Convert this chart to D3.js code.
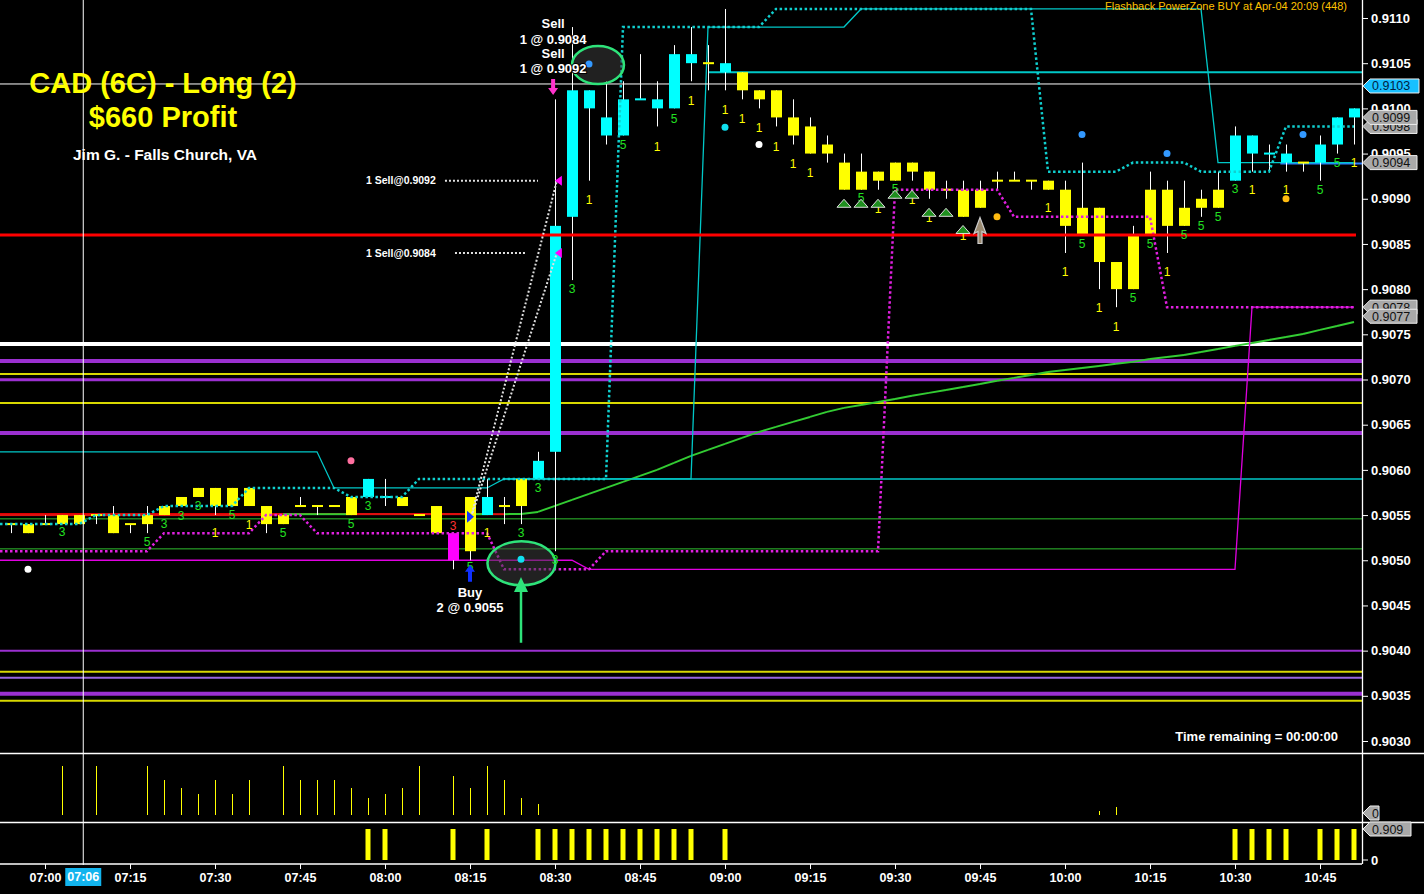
<!DOCTYPE html>
<html><head><meta charset="utf-8">
<script src="https://cdn.jsdelivr.net/npm/d3@7"></script>
<style>html,body{margin:0;padding:0;background:#000;overflow:hidden}text{font-family:"Liberation Sans",Arial,sans-serif}</style>
</head><body>
<script>
// ---------------- DATA ----------------
const barTimes = ["06:54","06:57","07:00","07:03","07:06","07:09","07:12","07:15","07:18","07:21",
"07:24","07:27","07:30","07:33","07:36","07:39","07:42","07:45","07:48","07:51",
"07:54","07:57","08:00","08:03","08:06","08:09","08:12","08:15","08:18","08:21",
"08:24","08:27","08:30","08:33","08:36","08:39","08:42","08:45","08:48","08:51",
"08:54","08:57","09:00","09:03","09:06","09:09","09:12","09:15","09:18","09:21",
"09:24","09:27","09:30","09:33","09:36","09:39","09:42","09:45","09:48","09:51",
"09:54","09:57","10:00","10:03","10:06","10:09","10:12","10:15","10:18","10:21",
"10:24","10:27","10:30","10:33","10:36","10:39","10:42","10:45","10:48","10:51"];
const barOpen = [.9054,.9054,.9054,.9055,.9055,.9055,.9055,.9054,.9055,.9056,
.9057,.9058,.9058,.9058,.9058,.9056,.9055,.9056,.9056,.9056,
.9057,.9057,.9057,.9057,.9055,.9056,.9053,.9057,.9055,.9056,
.9059,.9059,.9062,.9088,.9100,.9097,.9097,.9101,.9100,.9100,
.9105,.9105,.9104,.9104,.9102,.9102,.9099,.9098,.9096,.9094,
.9093,.9093,.9094,.9094,.9093,.9091,.9091,.9091,.9092,.9092,
.9092,.9092,.9091,.9089,.9089,.9083,.9086,.9091,.9091,.9089,
.9090,.9091,.9092,.9095,.9095,.9094,.9094,.9094,.9096,.9099];
const barHigh = [.9054,.9054,.9055,.9055,.9055,.9055,.9056,.9054,.9056,.9056,
.9057,.9058,.9058,.9058,.9058,.9056,.9055,.9057,.9056,.9056,
.9057,.9059,.9059,.9057,.9055,.9056,.9053,.9057,.9059,.9057,
.9059,.9062,.9101,.9109,.9102,.9103,.9103,.9106,.9103,.9107,
.9109,.9107,.9111,.9104,.9102,.9102,.9101,.9099,.9097,.9095,
.9095,.9093,.9094,.9094,.9093,.9092,.9092,.9092,.9093,.9093,
.9092,.9092,.9092,.9094,.9089,.9083,.9087,.9093,.9092,.9092,
.9091,.9093,.9098,.9097,.9096,.9096,.9094,.9097,.9099,.9100];
const barLow = [.9053,.9053,.9054,.9054,.9054,.9054,.9053,.9053,.9053,.9055,
.9056,.9057,.9055,.9056,.9056,.9053,.9054,.9056,.9055,.9056,
.9055,.9057,.9056,.9056,.9055,.9053,.9049,.9050,.9055,.9054,
.9054,.9059,.9051,.9081,.9092,.9096,.9097,.9101,.9098,.9100,
.9103,.9102,.9102,.9101,.9100,.9098,.9096,.9095,.9094,.9091,
.9091,.9091,.9092,.9092,.9090,.9090,.9088,.9089,.9091,.9092,
.9091,.9091,.9084,.9086,.9080,.9078,.9080,.9086,.9084,.9087,
.9088,.9089,.9092,.9093,.9093,.9093,.9093,.9092,.9095,.9096];
const barClose = [.9054,.9053,.9054,.9054,.9054,.9055,.9053,.9054,.9054,.9055,
.9056,.9057,.9056,.9056,.9056,.9054,.9054,.9056,.9056,.9056,
.9055,.9059,.9057,.9056,.9055,.9053,.9050,.9051,.9057,.9056,
.9056,.9061,.9087,.9102,.9102,.9099,.9101,.9101,.9101,.9106,
.9106,.9105,.9105,.9102,.9101,.9099,.9097,.9095,.9095,.9091,
.9091,.9092,.9092,.9093,.9091,.9091,.9088,.9089,.9092,.9092,
.9092,.9091,.9087,.9086,.9083,.9080,.9080,.9086,.9087,.9087,
.9089,.9089,.9097,.9097,.9095,.9095,.9094,.9096,.9099,.9100];
const barPaint = ["Y","Y","Y","Y","Y","Y","Y","Y","Y","Y","Y","Y","Y","Y","Y","Y","Y","Y","Y","Y",
"Y","C","C","Y","Y","Y","M","Y","C","Y","Y","C","C","C","C","C","C","C","C","C",
"C","Y","C","Y","Y","Y","Y","Y","Y","Y","Y","Y","Y","Y","Y","Y","Y","Y","Y","Y",
"Y","Y","Y","Y","Y","Y","Y","Y","Y","Y","Y","Y","C","C","C","C","Y","C","C","C"];

// indicator series (one value per bar)
const cyanTrail = [.9054,.9054,.9054,.9054,.9054,.9055,.9055,.9055,.9055,.9056,.9056,.9056,.9056,.9056,
.9058,.9058,.9058,.9058,.9058,.9058,.9057,.9057,.9057,.9057,
.9059,.9059,.9059,.9059,.9059,.9059,.9059,.9059,.9059,.9059,.9059,.9059,
.9109,.9109,.9109,.9109,.9109,.9109,.9109,.9109,.9109,
.9111,.9111,.9111,.9111,.9111,.9111,.9111,.9111,.9111,.9111,.9111,.9111,.9111,.9111,.9111,.9111,
.9093,.9093,.9093,.9093,.9093,.9094,.9094,.9094,.9094,.9093,.9093,.9093,.9093,.9093,
.9098,.9098,.9098,.9098,.9098];
const cyanBand = [.9062,.9062,.9062,.9062,.9062,.9062,.9062,.9062,.9062,.9062,.9062,.9062,.9062,.9062,.9062,.9062,.9062,.9062,.9062,
.9058,.9058,.9058,.9058,.9058,.9058,.9058,.9058,.9058,.9058,
.9059,.9059,.9059,.9059,.9059,.9059,.9059,.9059,.9059,.9059,.9059,.9059,
.9109,.9109,.9109,.9109,.9109,.9109,.9109,.9109,.9109,
.9111,.9111,.9111,.9111,.9111,.9111,.9111,.9111,.9111,.9111,.9111,.9111,.9111,.9111,.9111,.9111,.9111,.9111,.9111,.9111,.9111,
.9094,.9094,.9094,.9094,.9094,.9094,.9094,.9094,.9094];
const magentaTrail = [.9051,.9051,.9051,.9051,.9051,.9051,.9051,.9051,.9051,
.9053,.9053,.9053,.9053,.9053,.9053,.9055,.9055,.9055,
.9053,.9053,.9053,.9053,.9053,.9053,.9053,.9053,.9053,.9053,.9053,
.9049,.9049,.9049,.9049,.9049,.9049,
.9051,.9051,.9051,.9051,.9051,.9051,.9051,.9051,.9051,.9051,.9051,.9051,.9051,.9051,.9051,.9051,.9051,
.9091,.9091,.9091,.9091,.9091,.9091,.9091,
.9088,.9088,.9088,.9088,.9088,.9088,.9088,.9088,.9088,
.9078,.9078,.9078,.9078,.9078,.9078,.9078,.9078,.9078,.9078,.9078,.9078];
const magentaBand = [.9050,.9050,.9050,.9050,.9050,.9050,.9050,.9050,.9050,.9050,.9050,.9050,.9050,.9050,.9050,.9050,.9050,
.9050,.9050,.9050,.9050,.9050,.9050,.9050,.9050,.9050,.9050,.9050,.9050,.9050,.9050,.9050,.9050,.9050,
.9049,.9049,.9049,.9049,.9049,.9049,.9049,.9049,.9049,.9049,.9049,.9049,.9049,.9049,.9049,.9049,.9049,.9049,.9049,.9049,
.9049,.9049,.9049,.9049,.9049,.9049,.9049,.9049,.9049,.9049,.9049,.9049,.9049,.9049,.9049,.9049,.9049,.9049,.9049,
.9078,.9078,.9078,.9078,.9078,.9078,.9078];
const maLine = [.90550,.90550,.90550,.90550,.90550,.90550,.90550,.90550,.90550,.90550,.90550,.90550,.90550,.90550,.90550,.90550,
.90551,.90551,.90551,.90551,.90551,.90551,.90551,.90551,.90551,.90551,.90551,.90551,.90551,.90551,
.905513,.905535,.905602,.905668,.905735,.905801,.905867,.905934,.906000,.906077,
.906155,.906221,.906288,.906354,.906420,.906476,.906531,.906586,.906642,.906686,
.906719,.906752,.906785,.906819,.906852,.906885,.906918,.906951,.906985,.907018,
.907051,.907084,.907106,.907128,.907150,.907173,.907195,.907228,.907250,.907272,
.907305,.907338,.907372,.907405,.907438,.907471,.907504,.907549,.907593,.907637];
const maFalling = [1,1,1,1,1,1,1,1,1,1,1,1,1,1,1,1,0,0,0,0,1,1,1,1,1,1,1,0,1,0];

// horizontal levels
const levelPrices = [.907394,.907206,.907062,.906996,.906741,.906409,.903998,.903766,.903699,.903522,.903445,.905458,.905126,.905513];
const levelKinds  = ["white","purple","yellow","purpleM","yellow","purple","purpleT","yellow","lavender","purple","yellow","green","green","redThin"];
const stopPrice = 0.9086;
const breakoutLevel = 0.9059;
const resistLevel = 0.9104;
const blueLevel = 0.9094;

// volume & lower panel
const volTimes = ["07:03","07:09","07:18","07:21","07:24","07:27","07:30","07:33","07:36","07:42","07:45","07:48","07:51","07:54","07:57","08:00","08:03","08:06","08:12","08:15","08:18","08:21","08:24","08:27","10:06","10:09"];
const volValues = [49,49,49,35,27,21,35,21,35,49,35,35,35,27,17,21,27,49,39,27,49,35,17,11,4,8];
const lowTimes = ["07:57","08:00","08:12","08:18","08:27","08:30","08:33","08:36","08:39","08:42","08:45","08:48","08:51","08:54","09:00","10:30","10:33","10:36","10:39","10:45","10:48","10:51"];
const lowValues = [.909,.909,.909,.909,.909,.909,.909,.909,.909,.909,.909,.909,.909,.909,.909,.909,.909,.909,.909,.909,.909,.909];

// axis ticks
const priceTicks = [.9030,.9035,.9040,.9045,.9050,.9055,.9060,.9065,.9070,.9075,.9080,.9085,.9090,.9095,.9100,.9105,.9110];
const timeTicks = ["07:00","07:15","07:30","07:45","08:00","08:15","08:30","08:45","09:00","09:15","09:30","09:45","10:00","10:15","10:30","10:45"];

// count labels under bars
const cntTimes = ["07:03","07:18","07:21","07:24","07:27","07:30","07:33","07:36","07:42","07:54","07:57","08:12","08:15","08:18","08:24","08:27","08:30","08:33","08:36","08:42","08:48","08:51","08:54","09:00","09:03","09:06","09:09","09:12","09:15","09:24","09:27","09:30","09:33","09:36","09:42","09:57","10:00","10:03","10:06","10:09","10:12","10:15","10:18","10:21","10:24","10:27","10:30","10:33","10:39","10:45","10:48","10:51"];
const cntPrices = [.90531,.90520,.90540,.90549,.90560,.90530,.90550,.90539,.90530,.90540,.90560,.90538,.90493,.90530,.90530,.90580,.90500,.90800,.90899,.90960,.90958,.90989,.91008,.90998,.90988,.90978,.90958,.90939,.90929,.90901,.90889,.90911,.90899,.90879,.90859,.90890,.90819,.90850,.90779,.90758,.90790,.90850,.90819,.90860,.90870,.90880,.90911,.90910,.90910,.90910,.90940,.90940];
const cntText = ["3","5","3","3","3","1","5","1","5","5","3","3","5","1","3","3","3","3","1","5","1","5","1","1","1","1","1","1","1","5","1","5","1","1","1","1","1","5","1","1","5","5","1","5","5","5","3","1","1","5","5","1"];
const cntKind = ["g","g","g","g","g","y","g","y","g","g","g","r","g","y","g","g","g","g","y","g","y","g","y","y","y","y","y","y","y","g","y","g","y","y","y","y","y","g","y","y","g","g","y","g","g","g","g","y","y","g","g","y"];

// markers
const dotTimes = ["06:57","07:54","08:24","08:36","09:00","09:06","09:48","10:03","10:18","10:39","10:42"];
const dotPrices = [.90490,.90610,.90501,.91049,.90979,.90960,.90880,.90971,.90950,.90900,.90971];
const dotKind = ["white","pink","cyan","blue","cyan","white","orange","blue","blue","orange","blue"];
const triTimes = ["09:21","09:24","09:27","09:30","09:33","09:36","09:39","09:42"];
const triPrices = [.90895,.90895,.90895,.90905,.90905,.90885,.90885,.90866];

// right-axis price tags
const tagPrices = [.9098,.9099,.9094,.9078,.9077];
const tagLabels = ["0.9098","0.9099","0.9094","0.9078","0.9077"];
const crossTime = "07:06:45", crossPrice = 0.91027, crossLabel = "0.9103", crossTimeLabel = "07:06";

// ---------------- CHART ----------------
const W = 1424, H = 894, AX = 1362;
const parseT = d3.timeParse("%H:%M:%S");
const T = s => parseT(s.length === 5 ? s + ":00" : s);
const x = d3.scaleTime().domain([T("07:00"), T("10:45")]).range([45, 1320]);
const y = d3.scaleLinear().domain([0.9030, 0.9110]).range([741, 18]);
const yVol = d3.scaleLinear().domain([0, 50]).range([815, 765]);
const yLow = d3.scaleLinear().domain([0, 0.909]).range([860, 829]);
const bx = i => x(T(barTimes[i]));

const svg = d3.select("body").append("svg").attr("width", W).attr("height", H).style("display","block");
svg.append("rect").attr("width", W).attr("height", H).attr("fill", "#000");
svg.append("defs").append("clipPath").attr("id","cp").append("rect").attr("x",0).attr("y",0).attr("width",AX).attr("height",753);
const plot = svg.append("g").attr("clip-path","url(#cp)");

const lvlStyle = {
  white:{c:"#ffffff",w:4}, purple:{c:"#9b30d0",w:4}, purpleM:{c:"#9b30d0",w:3}, purpleT:{c:"#9b30d0",w:2},
  lavender:{c:"#9966dd",w:2}, yellow:{c:"#d8d800",w:2}, green:{c:"#2fbf2f",w:1}, redThin:{c:"#e00000",w:2}
};
plot.selectAll("line.lvl").data(levelPrices).join("line").attr("class","lvl")
  .attr("x1", 0)
  .attr("x2", (d,i)=> levelKinds[i]==="redThin" ? x(T("08:18")) : AX)
  .attr("y1", d=>y(d)).attr("y2", d=>y(d))
  .attr("stroke",(d,i)=>lvlStyle[levelKinds[i]].c).attr("stroke-width",(d,i)=>lvlStyle[levelKinds[i]].w);

// horizontal cyan levels
plot.append("line").attr("x1", x(T("08:21"))).attr("x2", AX).attr("y1", y(breakoutLevel)).attr("y2", y(breakoutLevel)).attr("stroke","#00c8c8").attr("stroke-width",1.5);
plot.append("line").attr("x1", x(T("08:57"))).attr("x2", AX).attr("y1", y(resistLevel)).attr("y2", y(resistLevel)).attr("stroke","#00c8c8").attr("stroke-width",2.2);
plot.append("line").attr("x1", x(T("10:38"))).attr("x2", AX).attr("y1", y(blueLevel)+1).attr("y2", y(blueLevel)+1).attr("stroke","#2a7fff").attr("stroke-width",2);

// line generator that starts at the left edge of the panel
const lineGen = vals => {
  const pts = vals.map((v,i)=>[bx(i), y(v)]);
  pts.unshift([0, y(vals[0])]);
  return d3.line()(pts);
};

// moving average with slope colouring
plot.append("line").attr("x1",0).attr("x2",bx(0)).attr("y1",y(maLine[0])).attr("y2",y(maLine[0])).attr("stroke","#e01010").attr("stroke-width",2);
for (let i = 0; i < maLine.length - 1; i++) {
  const red = i < maFalling.length && maFalling[i];
  plot.append("line").attr("x1", bx(i)).attr("x2", bx(i+1)).attr("y1", y(maLine[i])).attr("y2", y(maLine[i+1]))
    .attr("stroke", red ? "#e01010" : "#33cc33").attr("stroke-width", 2);
}

plot.append("path").attr("d", lineGen(magentaBand)).attr("fill","none").attr("stroke","#e000e0").attr("stroke-width",1.3);
plot.append("path").attr("d", lineGen(cyanBand)).attr("fill","none").attr("stroke","#00c8c8").attr("stroke-width",1.3);

// crosshair
svg.append("line").attr("x1", x(T(crossTime))).attr("x2", x(T(crossTime))).attr("y1",0).attr("y2",865).attr("stroke","#fff").attr("stroke-width",1);
plot.append("line").attr("x1",0).attr("x2",AX).attr("y1", y(crossPrice)).attr("y2", y(crossPrice)).attr("stroke","#fff").attr("stroke-width",1);

// candles
const paint = {Y:"#ffff00", C:"#00ffff", M:"#ff00ff"};
const cg = plot.append("g");
cg.selectAll("line.wick").data(barTimes).join("line").attr("class","wick")
  .attr("x1",(d,i)=>Math.round(bx(i))+0.5).attr("x2",(d,i)=>Math.round(bx(i))+0.5)
  .attr("y1",(d,i)=>y(barHigh[i])).attr("y2",(d,i)=>y(barLow[i])).attr("stroke","#fff").attr("stroke-width",1);
cg.selectAll("rect.body").data(barTimes).join("rect").attr("class","body")
  .attr("x",(d,i)=>Math.round(bx(i))-5).attr("width",11)
  .attr("y",(d,i)=>{const t=y(Math.max(barOpen[i],barClose[i])), b=y(Math.min(barOpen[i],barClose[i])); return b-t<2 ? t-1 : t;})
  .attr("height",(d,i)=>Math.max(2, y(Math.min(barOpen[i],barClose[i])) - y(Math.max(barOpen[i],barClose[i]))))
  .attr("fill",(d,i)=>paint[barPaint[i]]);

// dotted trailing lines (over candles)
plot.append("path").attr("d", lineGen(magentaTrail)).attr("fill","none").attr("stroke","#e020e0").attr("stroke-width",2.5).attr("stroke-dasharray","2.5,2.5");
plot.append("path").attr("d", lineGen(cyanTrail)).attr("fill","none").attr("stroke","#10d0d0").attr("stroke-width",2.5).attr("stroke-dasharray","2.5,2.5");

// stop level
plot.append("line").attr("x1",0).attr("x2", bx(barTimes.length-1)+2).attr("y1",y(stopPrice)).attr("y2",y(stopPrice)).attr("stroke","#ff0000").attr("stroke-width",3);

// ellipses & annotations
const ellG = plot.append("g");
ellG.append("ellipse").attr("cx", x(T("08:37:35"))).attr("cy", y(0.91048)).attr("rx",26).attr("ry",19)
  .attr("fill","rgba(60,60,60,0.55)").attr("stroke","#2ee37a").attr("stroke-width",2.5);
ellG.append("ellipse").attr("cx", x(T("08:24:05"))).attr("cy", y(0.904966)).attr("rx",34).attr("ry",22)
  .attr("fill","rgba(60,60,60,0.55)").attr("stroke","#2ee37a").attr("stroke-width",2.5);
// green arrow
{
  const ax = x(T("08:24")), tip = y(0.904815), base = y(0.90465), bot = y(0.904087);
  plot.append("line").attr("x1",ax).attr("x2",ax).attr("y1",base).attr("y2",bot).attr("stroke","#2ee37a").attr("stroke-width",2.5);
  plot.append("path").attr("d",`M${ax},${tip} L${ax+7},${base} L${ax-7},${base} Z`).attr("fill","#2ee37a");
}

// count labels
const cntColor = {g:"#22e022", y:"#ffff00", r:"#ff3030"};
const lg = plot.append("g").attr("font-size",12);
lg.selectAll("text.cnt").data(cntText).join("text").attr("class","cnt")
  .attr("x",(d,i)=>x(T(cntTimes[i]))).attr("y",(d,i)=>y(cntPrices[i])).attr("dy","0.35em").attr("text-anchor","middle")
  .attr("fill",(d,i)=>cntColor[cntKind[i]]).text(d=>d);

// green triangles
plot.selectAll("path.tri").data(triTimes).join("path").attr("class","tri")
  .attr("d",(d,i)=>{const cx=x(T(d)), cy=y(triPrices[i]); return `M${cx-7},${cy+4} L${cx},${cy-4} L${cx+7},${cy+4} Z`;})
  .attr("fill","#1f8f1f").attr("stroke","#dddddd").attr("stroke-width",1);
// gray arrow
{
  const cx = x(T("09:45")), cy = y(0.90866);
  plot.append("path").attr("d",`M${cx},${cy-12} L${cx+6},${cy+4} L${cx+2},${cy+2} L${cx+2},${cy+14} L${cx-2},${cy+14} L${cx-2},${cy+2} L${cx-6},${cy+4} Z`)
    .attr("fill","#9a8a70").attr("stroke","#cccccc").attr("stroke-width",1.2);
}

// dots
const dotColor = {white:"#ffffff", pink:"#ff6f9f", cyan:"#10e0f0", blue:"#3399ff", orange:"#ffbb10"};
plot.selectAll("circle.dot").data(dotTimes).join("circle").attr("class","dot")
  .attr("cx",(d,i)=>x(T(d))).attr("cy",(d,i)=>y(dotPrices[i])).attr("r",3.5).attr("fill",(d,i)=>dotColor[dotKind[i]]);

// trade annotations
{
  const sx = x(T("08:30:20"));
  const dl = (a,b)=>plot.append("path").attr("d", d3.line()([a,b])).attr("stroke","#e0e0e0").attr("stroke-width",2).attr("stroke-dasharray","2,2").attr("fill","none");
  dl([x(T("08:15")), y(0.90543)], [sx, y(0.9092)]);
  dl([x(T("08:15:30")), y(0.90553)], [sx, y(0.9084)]);
  dl([x(T("08:10:35")), y(0.9092)], [x(T("08:27:00")), y(0.9092)]);
  dl([x(T("08:12:21")), y(0.9084)], [x(T("08:24:42")), y(0.9084)]);
  const tg = plot.append("g").attr("font-size",10.5).attr("font-weight","bold").attr("fill","#fff");
  tg.append("text").attr("x", x(T("07:56:39"))).attr("y", y(0.9092)).attr("dy","0.35em").text("1 Sell@0.9092");
  tg.append("text").attr("x", x(T("07:56:39"))).attr("y", y(0.9084)).attr("dy","0.35em").text("1 Sell@0.9084");
  [0.9092, 0.9084].forEach(p=>{
    const cy = y(p);
    plot.append("path").attr("d",`M${sx-2},${cy} L${sx+5},${cy-5} L${sx+5},${cy+5} Z`).attr("fill","#ff00ff");
  });
  const ex = x(T("08:15")), ey = y(0.90548);
  plot.append("path").attr("d",`M${ex-3},${ey-6} L${ex+4},${ey} L${ex-3},${ey+6} Z`).attr("fill","#1030ff");
  const mx = x(T("08:29:40")), mt = y(0.910325), mb = y(0.910148);
  plot.append("path").attr("d",`M${mx-2},${mt} L${mx+2},${mt} L${mx+2},${mb-7} L${mx+5},${mb-7} L${mx},${mb} L${mx-5},${mb-7} L${mx-2},${mb-7} Z`).attr("fill","#ff33cc");
  const by1 = y(0.904949), by2 = y(0.904761);
  plot.append("path").attr("d",`M${ex-2},${by2} L${ex+2},${by2} L${ex+2},${by1+7} L${ex+5},${by1+7} L${ex},${by1} L${ex-5},${by1+7} L${ex-2},${by1+7} Z`).attr("fill","#1030ff");
  const at = plot.append("g").attr("font-size",13).attr("font-weight","bold").attr("fill","#fff").attr("text-anchor","middle")
    .attr("stroke","#000").attr("stroke-width",2).attr("paint-order","stroke");
  [["Sell",0.910945],["1 @ 0.9084",0.910768],["Sell",0.910613],["1 @ 0.9092",0.910447]].forEach(([t,p])=>
    at.append("text").attr("x", x(T("08:29:40"))).attr("y", y(p)).attr("dy","0.35em").text(t));
  [["Buy",0.904639],["2 @ 0.9055",0.904473]].forEach(([t,p])=>
    at.append("text").attr("x", x(T("08:15"))).attr("y", y(p)).attr("dy","0.35em").text(t));
}

// ---------- lower panels ----------
svg.selectAll("line.vol").data(volTimes).join("line").attr("class","vol")
  .attr("x1",d=>Math.round(x(T(d)))+0.5).attr("x2",d=>Math.round(x(T(d)))+0.5)
  .attr("y1",yVol(0)).attr("y2",(d,i)=>yVol(volValues[i])).attr("stroke","#ffff00").attr("stroke-width",1);
svg.selectAll("rect.low").data(lowTimes).join("rect").attr("class","low")
  .attr("x",d=>x(T(d))-2.5).attr("width",5).attr("y",(d,i)=>yLow(lowValues[i])).attr("height",(d,i)=>yLow(0)-yLow(lowValues[i]))
  .attr("fill","#ffff00");

svg.append("line").attr("x1",0).attr("x2",W).attr("y1",753.5).attr("y2",753.5).attr("stroke","#fff").attr("stroke-width",1.3);
svg.append("line").attr("x1",0).attr("x2",W).attr("y1",822.5).attr("y2",822.5).attr("stroke","#fff").attr("stroke-width",1.3);

// time axis
const xa = svg.append("g").attr("transform","translate(0,864)")
  .call(d3.axisBottom(x).tickValues(timeTicks.map(T)).tickFormat(d3.timeFormat("%H:%M")).tickSize(5).tickPadding(4));
xa.select(".domain").remove();
xa.selectAll("line").attr("stroke","#fff");
xa.selectAll("text").attr("fill","#fff").attr("font-size",12.5).attr("font-weight","bold").attr("font-family","Liberation Sans, Arial, sans-serif");
svg.append("line").attr("x1",0).attr("x2",AX).attr("y1",864).attr("y2",864).attr("stroke","#fff").attr("stroke-width",1.3);

{
  const cx = x(T(crossTime));
  svg.append("rect").attr("x",cx-18).attr("y",868).attr("width",36).attr("height",18).attr("fill","#12b4ee");
  svg.append("text").attr("x",cx).attr("y",877).attr("dy","0.35em").attr("text-anchor","middle").attr("fill","#fff")
    .attr("font-size",12.5).attr("font-weight","bold").text(crossTimeLabel);
}

// price axis
const ya = svg.append("g").attr("transform",`translate(${AX},0)`)
  .call(d3.axisRight(y).tickValues(priceTicks).tickFormat(d3.format(".4f")).tickSize(6).tickPadding(3));
ya.select(".domain").remove();
ya.selectAll("line").attr("stroke","#fff");
ya.selectAll("text").attr("fill","#fff").attr("font-size",13).attr("font-weight","bold").attr("font-family","Liberation Sans, Arial, sans-serif");
svg.append("line").attr("x1",AX+0.5).attr("x2",AX+0.5).attr("y1",0).attr("y2",864).attr("stroke","#fff").attr("stroke-width",1.3);
svg.append("line").attr("x1",AX).attr("x2",AX+6).attr("y1",yLow(0)).attr("y2",yLow(0)).attr("stroke","#fff");
svg.append("text").attr("x",AX+9).attr("y",yLow(0)).attr("dy","0.35em").attr("fill","#fff").attr("font-size",13).attr("font-weight","bold").text("0");

// tags
function tag(yc, label, fill, w, txt) {
  const h = 14, x0 = AX + 1;
  svg.append("path").attr("d",`M${x0},${yc} L${x0+7},${yc-h/2} L${x0+w},${yc-h/2} L${x0+w},${yc+h/2} L${x0+7},${yc+h/2} Z`)
    .attr("fill",fill).attr("stroke","#eeeeee").attr("stroke-width",1);
  svg.append("text").attr("x",x0+9).attr("y",yc).attr("dy","0.36em").attr("fill",txt).attr("font-size",12.5).text(label);
}
tagPrices.forEach((p,i)=>tag(y(p), tagLabels[i], "#a9a9a9", 54, "#111"));
tag(y(crossPrice)+2, crossLabel, "#18c0ff", 56, "#002244");
tag(yVol(0)-2, "0", "#a9a9a9", 16, "#111");
tag(yLow(lowValues[lowValues.length-1]), "0.909", "#a9a9a9", 48, "#111");

// texts
svg.append("text").attr("x",163).attr("y",93).attr("text-anchor","middle").attr("fill","#ffff00").attr("font-size",29).attr("font-weight","bold").text("CAD (6C) - Long (2)");
svg.append("text").attr("x",163).attr("y",127).attr("text-anchor","middle").attr("fill","#ffff00").attr("font-size",29).attr("font-weight","bold").text("$660 Profit");
svg.append("text").attr("x",165).attr("y",160).attr("text-anchor","middle").attr("fill","#ffffff").attr("font-size",15.5).attr("font-weight","bold").text("Jim G. - Falls Church, VA");
svg.append("text").attr("x",1347).attr("y",10).attr("text-anchor","end").attr("fill","#ffc000").attr("font-size",11).text("Flashback PowerZone BUY at Apr-04 20:09 (448)");
svg.append("text").attr("x",1338).attr("y",741).attr("text-anchor","end").attr("fill","#ffffff").attr("font-size",13).attr("font-weight","bold").text("Time remaining = 00:00:00");
</script>
</body></html>
